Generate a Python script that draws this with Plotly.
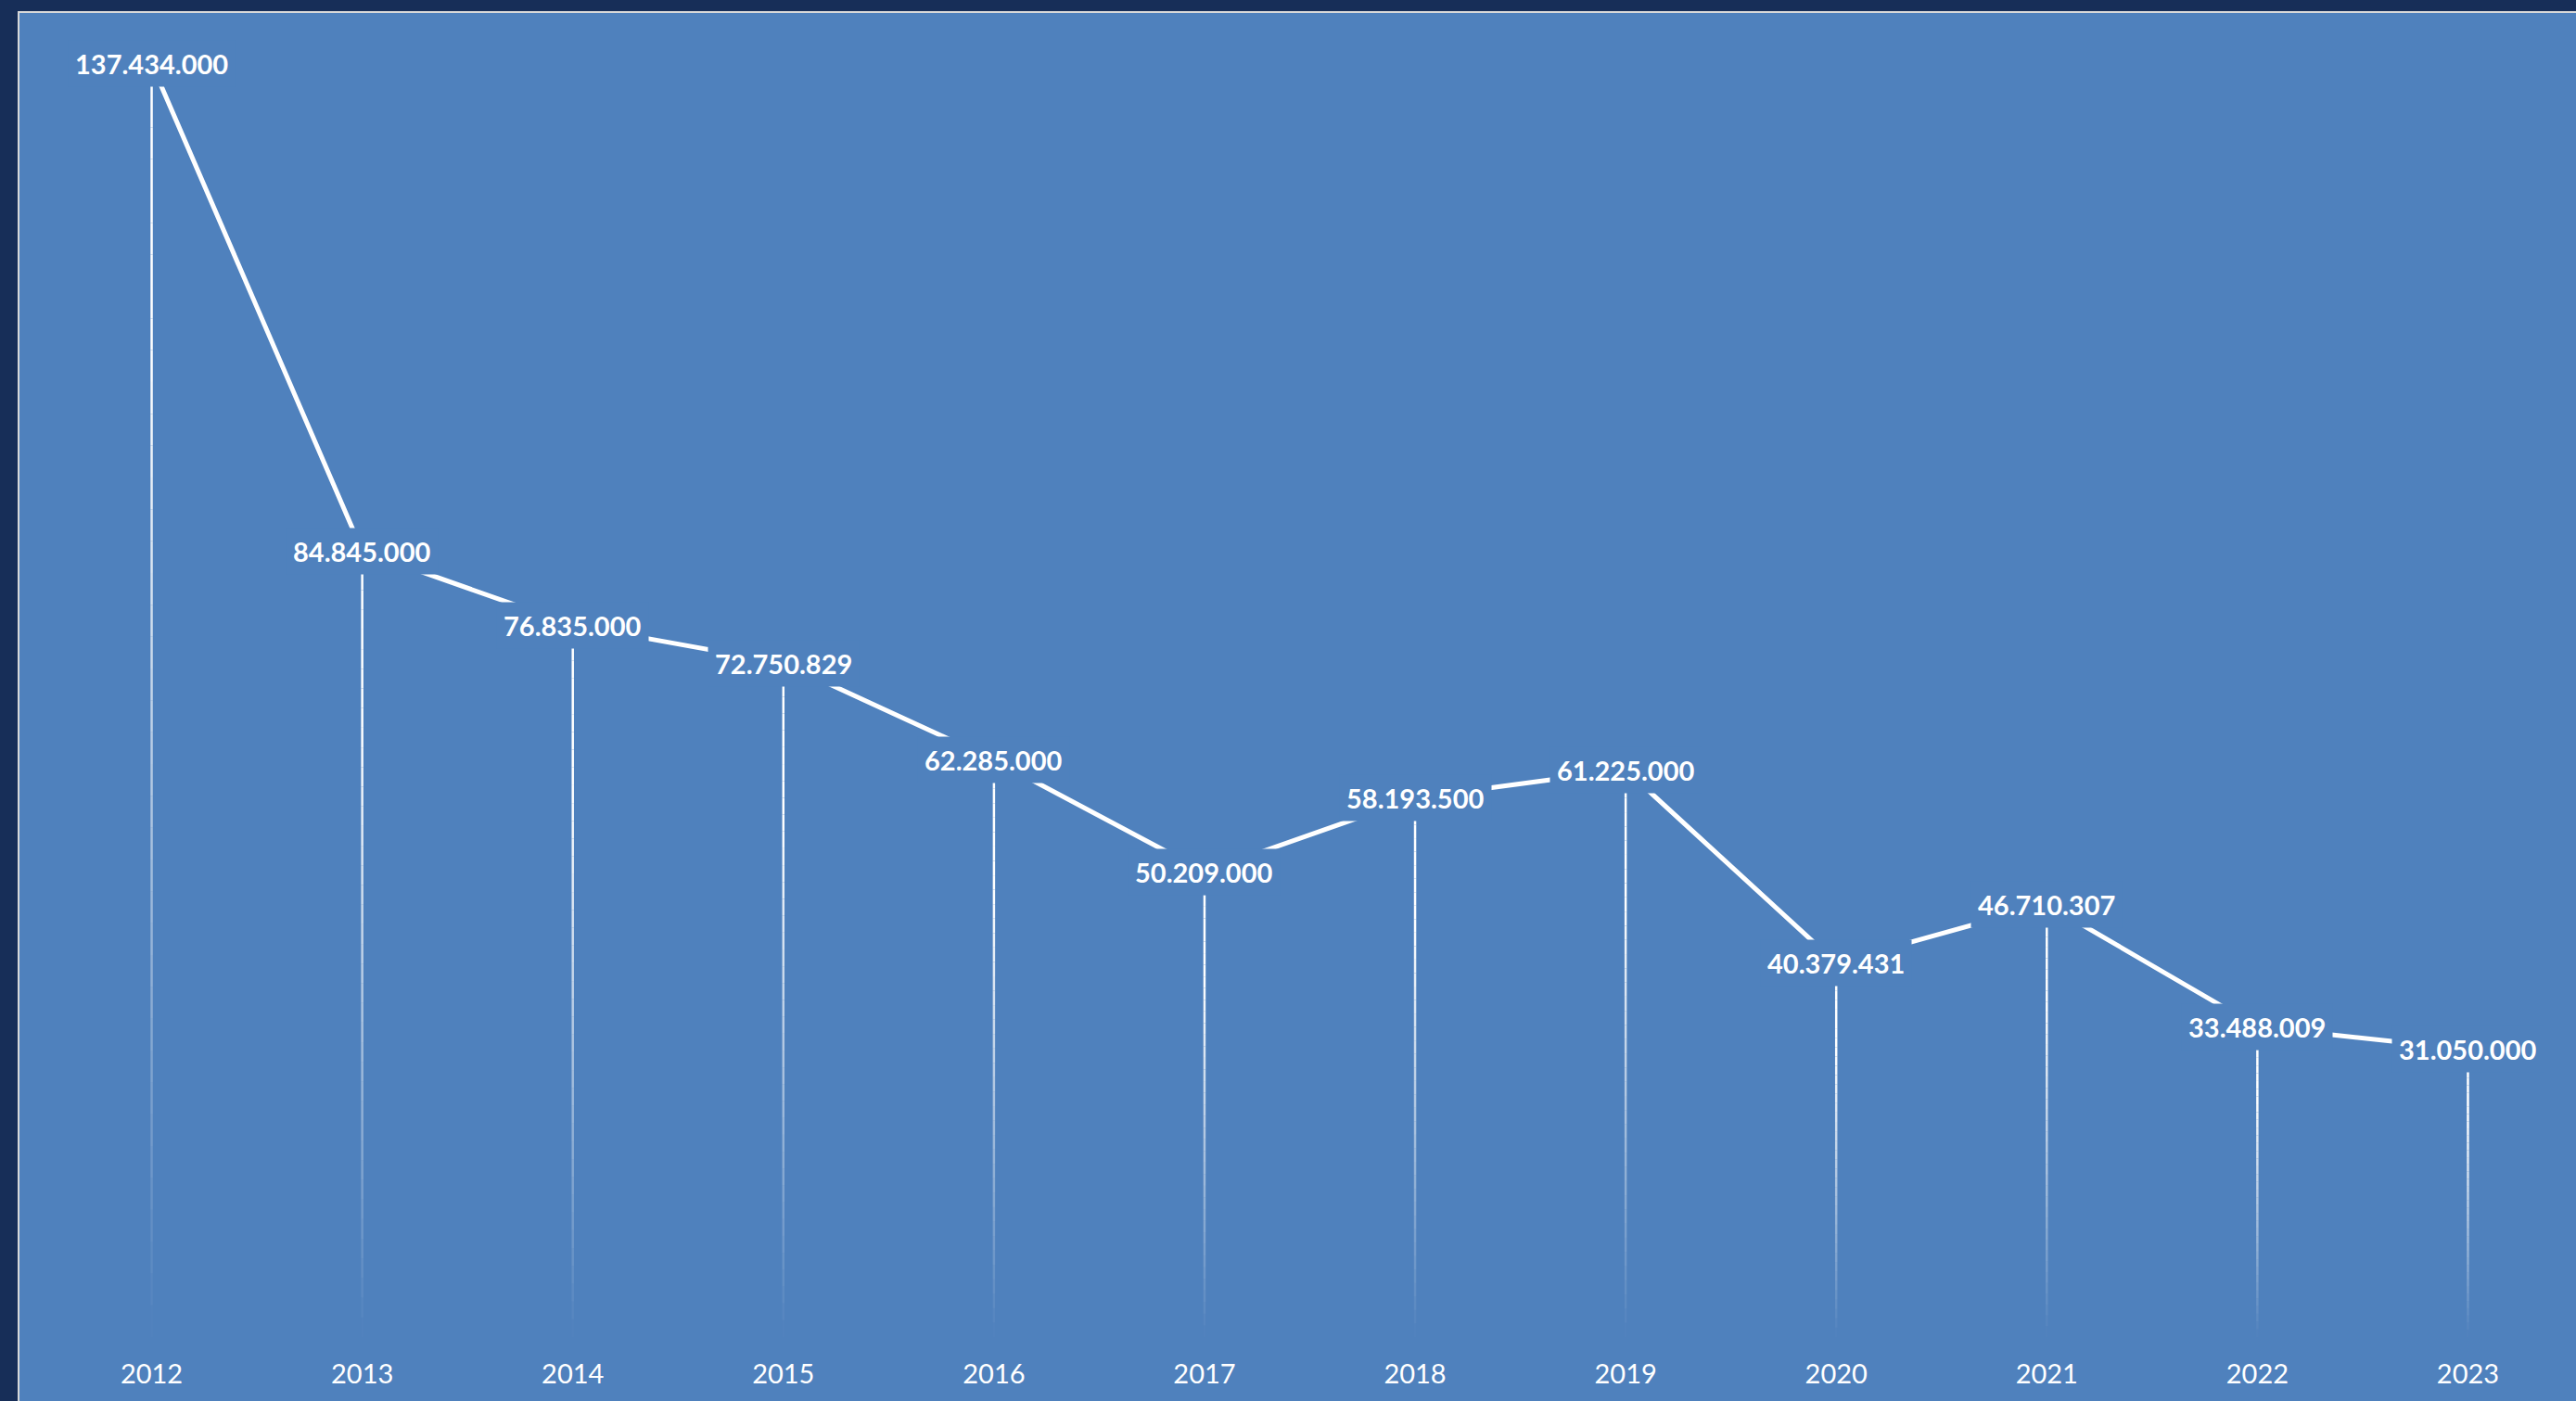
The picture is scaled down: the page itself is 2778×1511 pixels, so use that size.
import plotly.graph_objects as go

years = ["2012", "2013", "2014", "2015", "2016", "2017", "2018", "2019", "2020", "2021", "2022", "2023"]
values = [137434000, 84845000, 76835000, 72750829, 62285000, 50209000, 58193500, 61225000, 40379431, 46710307, 33488009, 31050000]

NAVY = "#172e58"
BLUE = "#4f81bd"
BORDER = "#d9d9d9"


def fmt(v):
    return f"{v:,}".replace(",", ".")


fig = go.Figure()

# Drop lines with a fading gradient toward the axis (built from the data values)
N = 40
for k in range(N):
    xs, ys = [], []
    f0, f1 = k / N, (k + 1) / N  # fraction of way down from the point
    for x, v in zip(years, values):
        xs += [x, x, None]
        ys += [v * (1 - f0), v * (1 - f1), None]
    mid = (f0 + f1) / 2
    alpha = max(0.0, min(1.0, 1.3 * (1 - mid)))
    fig.add_trace(go.Scatter(
        x=xs, y=ys, mode="lines",
        line=dict(color=f"rgba(255,255,255,{alpha:.3f})", width=2.5),
        hoverinfo="skip", showlegend=False,
    ))

# Main line
fig.add_trace(go.Scatter(
    x=years, y=values, mode="lines",
    line=dict(color="white", width=5),
    hoverinfo="skip", showlegend=False,
))

# Data labels with background masking the lines
for i, v in enumerate(values):
    fig.add_annotation(
        x=i, y=v, xref="x", yref="y", text=fmt(v), showarrow=False,
        font=dict(family="Lato", size=29, color="white", weight="bold"),
        bgcolor=BLUE, borderpad=7,
    )

# Chart area panel with light border
fig.add_shape(
    type="rect", xref="paper", yref="paper",
    x0=-0.011, x1=1.05, y0=-0.2, y1=1.0215,
    fillcolor=BLUE, line=dict(color=BORDER, width=2), layer="below",
)

fig.update_layout(
    width=2778, height=1511,
    margin=dict(l=50, r=3, t=43, b=69),
    paper_bgcolor=NAVY,
    plot_bgcolor="rgba(0,0,0,0)",
    showlegend=False,
    xaxis=dict(
        type="category", range=[-0.5, 11.5],
        showgrid=False, zeroline=False, showline=False,
        ticks="", tickfont=dict(family="Lato", size=29, color="white"),
        ticklabelstandoff=20,
    ),
    yaxis=dict(
        range=[0, 140000000], visible=False, showgrid=False, zeroline=False,
    ),
)

fig.write_html(
    "out.html",
    config={"displayModeBar": False},
    post_script="document.body.style.margin='0';document.body.style.overflow='hidden';",
)
